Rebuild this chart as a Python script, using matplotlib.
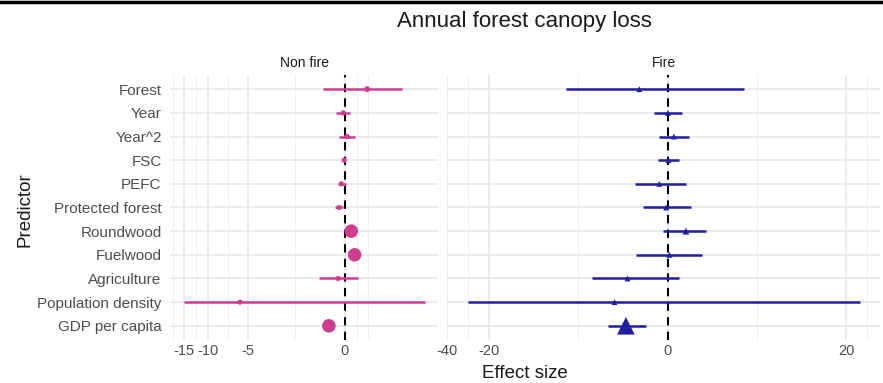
import numpy as np
import matplotlib
matplotlib.use("Agg")
import matplotlib.pyplot as plt
from matplotlib.lines import Line2D

plt.rcParams['font.family'] = ['Liberation Sans', 'DejaVu Sans']

# Predictores (de arriba hacia abajo)
predictors = ["Forest", "Year", "Year^2", "FSC", "PEFC", "Protected forest",
              "Roundwood", "Fuelwood", "Agriculture", "Population density",
              "GDP per capita"]

# Non fire
nf_est = [1.13, -0.08, 0.12, -0.03, -0.17, -0.28, 0.33, 0.50, -0.33, -5.96, -0.80]
nf_low = [-1.08, -0.42, -0.28, -0.06, -0.33, -0.50, 0.18, 0.35, -1.28, -15.06, -0.95]
nf_high = [2.93, 0.25, 0.50, 0.03, 0.08, -0.08, 0.48, 0.65, 0.67, 4.11, -0.65]
nf_size = [18, 14, 14, 14, 14, 14, 95, 95, 14, 14, 95]

# Fire
f_est = [-3.19, 0.02, 0.69, 0.10, -0.95, -0.17, 2.04, 0.20, -4.50, -5.96, -4.68]
f_low = [-11.37, -1.59, -1.03, -1.10, -3.64, -2.78, -0.54, -3.53, -8.46, -29.86, -6.63]
f_high = [8.57, 1.59, 2.37, 1.32, 2.00, 2.56, 4.28, 3.87, 1.25, 26.3, -2.41]
f_size = [18, 18, 18, 18, 18, 18, 24, 18, 18, 18, 160]

# escalas raras del original (simetricas, comprimidas lejos de 0)
nf_knots = [0, 2.5, 5, 7.5, 10, 12.5, 15, 17.5, 20]
nf_px = [0, 50, 98, 118, 138, 150, 162, 173, 185]
f_knots = [0, 20, 40]
f_px = [0, 178.5, 220.5]


def make_scale(knots, px):
    k = np.array(knots, float)
    p = np.array(px, float)
    xs = np.concatenate([-k[::-1], k[1:]])
    ps = np.concatenate([-p[::-1], p[1:]])

    def fwd(x):
        return np.interp(x, xs, ps)

    def inv(y):
        return np.interp(y, ps, xs)
    return fwd, inv


W, H = 883, 383
fig = plt.figure(figsize=(W / 100, H / 100), dpi=100)

top, bottom = 75, 340
ax1 = fig.add_axes([170 / W, 1 - bottom / H, (438 - 170) / W, (bottom - top) / H])
ax2 = fig.add_axes([447 / W, 1 - bottom / H, (880 - 447) / W, (bottom - top) / H])

pink = "#CF3D91"
blue = "#1F1FA0"
ypos = np.arange(len(predictors))

panels = [
    (ax1, nf_est, nf_low, nf_high, nf_size, pink, "o", nf_knots, nf_px,
     (-18.2, 4.8), [-15, -10, -5, 0], [-17.5, -12.5, -7.5, -2.5, 0.6, 1.2], "Non fire"),
    (ax2, f_est, f_low, f_high, f_size, blue, "^", f_knots, f_px,
     (-40, 36), [-40, -20, 0, 20], [-30, -10, 10, 30], "Fire"),
]

for ax, est, low, high, size, col, mk, knots, px, xlim, majors, minors, strip in panels:
    fwd, inv = make_scale(knots, px)
    ax.set_xscale("function", functions=(fwd, inv))
    ax.set_xlim(*xlim)
    ax.set_ylim(len(predictors) - 0.4, -0.6)
    ax.set_facecolor("white")
    for s in ax.spines.values():
        s.set_visible(False)
    ax.set_xticks(majors)
    ax.set_xticks(minors, minor=True)
    ax.set_xticklabels([str(m) for m in majors])
    ax.set_yticks(ypos)
    ax.grid(True, which="major", color="#E6E6E6", lw=1.1, zorder=0)
    ax.grid(True, which="minor", axis="x", color="#EFEFEF", lw=0.7, zorder=0)
    ax.tick_params(length=0, which="both", labelsize=10.5, colors="#4D4D4D", pad=3)
    ax.tick_params(axis="y", labelsize=11, pad=6)
    ax.axvline(0, color="black", ls=(0, (4, 3)), lw=1.5, zorder=2)
    ax.hlines(ypos, low, high, color=col, lw=1.8, zorder=3)
    ax.scatter(est, ypos, s=size, color=col, marker=mk, zorder=4, linewidths=0)
    ax.set_title(strip, fontsize=10, color="#1A1A1A", pad=6)

ax1.set_yticklabels(predictors)
ax2.set_yticklabels([])

fig.text(524 / W, 1 - 22 / H, "Annual forest canopy loss", ha="center", va="center",
         fontsize=16, color="#1A1A1A")
fig.text(525 / W, 1 - 374 / H, "Effect size", ha="center", va="center",
         fontsize=13.5, color="#1A1A1A")
fig.text(25 / W, 1 - 210 / H, "Predictor", ha="center", va="center",
         rotation=90, fontsize=13.5, color="#1A1A1A")

# linea negra de arriba
fig.add_artist(Line2D([0, 1], [1 - 1.5 / H, 1 - 1.5 / H], color="black", lw=2.5,
                      transform=fig.transFigure))

fig.savefig("out.png", dpi=100)
